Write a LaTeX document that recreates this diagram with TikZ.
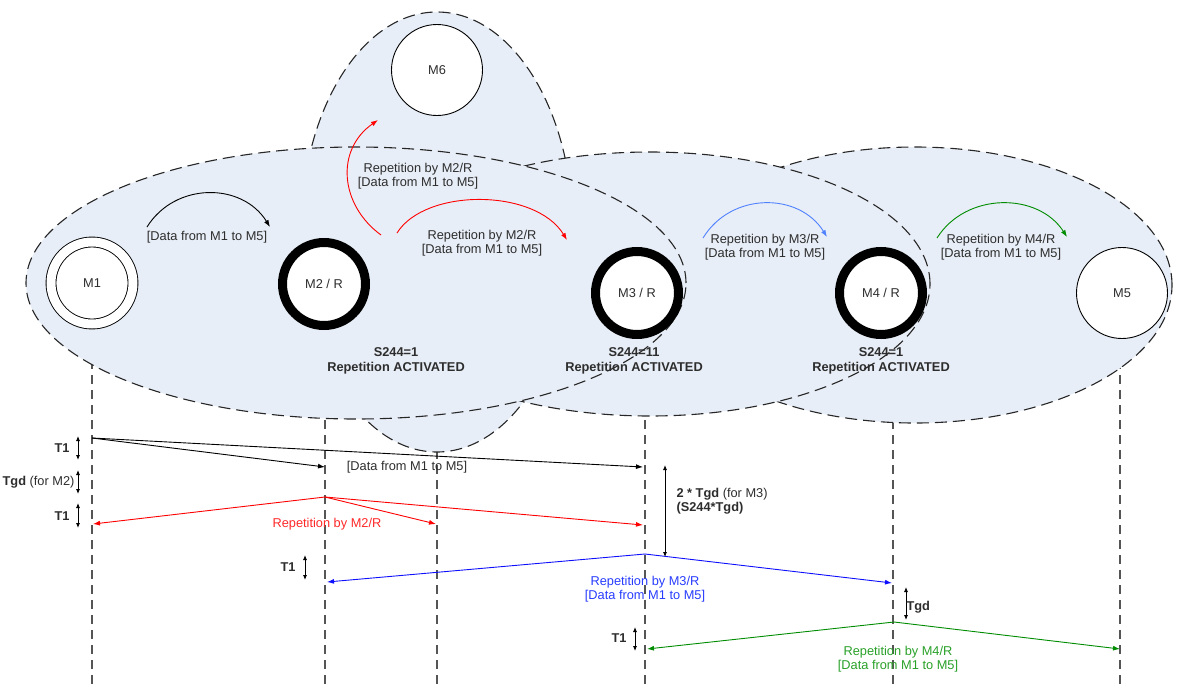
\documentclass[tikz,border=0pt]{standalone}
\usepackage{fontspec}
\setmainfont{Liberation Sans}
\usetikzlibrary{arrows.meta}

\definecolor{cloud}{RGB}{232,238,247}
\definecolor{txtgray}{RGB}{45,45,45}
\definecolor{lifegray}{RGB}{85,85,85}
\definecolor{repred}{RGB}{255,0,0}
\definecolor{txtred}{RGB}{255,40,40}
\definecolor{repblue}{RGB}{15,15,255}
\definecolor{txtblue}{RGB}{40,60,255}
\definecolor{skyblue}{RGB}{80,130,255}
\definecolor{repgreen}{RGB}{0,140,0}
\definecolor{txtgreen}{RGB}{40,160,40}

\newcommand{\diafont}{\fontsize{12.8}{15.5}\selectfont}

\tikzset{
  zone/.style={fill=cloud, draw=black!85, line width=1.1pt, dash pattern=on 12pt off 6pt},
  lifeline/.style={draw=lifegray, line width=1.3pt, dash pattern=on 9pt off 6pt},
  station/.style={circle, draw, fill=white, line width=0.9pt, minimum size=91pt, inner sep=0pt, text=txtgray},
  relay/.style={station, line width=9pt, minimum size=83pt},
  master/.style={station, double, double distance=9pt, minimum size=82pt},
  msg/.style={line width=0.9pt, -{Latex[length=7pt,width=5pt]}},
  span/.style={line width=0.8pt, {Latex[length=5pt,width=4pt]}-{Latex[length=5pt,width=4pt]}},
  lbl/.style={align=center, text=txtgray}
}

\begin{document}
\begin{tikzpicture}[x=1pt, y=-1pt, font=\diafont]
\useasboundingbox (0,0) rectangle (1179,686);

% Lifelines (their tops disappear under the zones)
\foreach \n/\x in {1/92, 2/325, 6/437, 3/645, 4/893, 5/1120} {
  \coordinate (top\n) at (\x,300);
  \coordinate (bot\n) at (\x,686);
  \draw[lifeline] (top\n) -- (bot\n);
}

% Zones
\draw[zone] (915,285) ellipse [x radius=257pt, y radius=138pt];
\draw[zone] (437,232) ellipse [x radius=136pt, y radius=220pt];
\draw[zone] (650,284) ellipse [x radius=280pt, y radius=132pt];
\draw[zone] (356,283) ellipse [x radius=330pt, y radius=136pt];

% Stations
\node[master] (m1) at (92,283) {M1};
\node[relay] (m2) at (324,284) {M2 / R};
\node[relay] (m3) at (637,293) {M3 / R};
\node[relay] (m4) at (881,293) {M4 / R};
\node[station] (m5) at (1122,293) {M5};
\node[station] (m6) at (437,70) {M6};

\node[lbl, font=\diafont\bfseries] (act2) at (396,361) {S244=1\\Repetition ACTIVATED};
\node[lbl, font=\diafont\bfseries] (act3) at (634,361) {S244=11\\Repetition ACTIVATED};
\node[lbl, font=\diafont\bfseries] (act4) at (881,361) {S244=1\\Repetition ACTIVATED};

%% Repetition in the zones
\coordinate (s1) at (147,227);  \coordinate (e1) at (270,227);
\coordinate (s2) at (381,235);  \coordinate (e2) at (378,120);
\coordinate (s3) at (397,233);  \coordinate (e3) at (567,240);
\coordinate (s4) at (703,238);  \coordinate (e4) at (827,237);
\coordinate (s5) at (937,238);  \coordinate (e5) at (1067,237);

\draw[msg] (s1) .. controls (175,182) and (242,182) .. (e1);
\draw[msg, repred] (s2) .. controls (340,205) and (335,150) .. (e2);
\draw[msg, repred] (s3) .. controls (425,188) and (535,188) .. (e3);
\draw[msg, skyblue] (s4) .. controls (731,192) and (799,192) .. (e4);
\draw[msg, repgreen] (s5) .. controls (966,192) and (1038,192) .. (e5);

\node[lbl] (l1) at (207,237) {[Data from M1 to M5]};
\node[lbl] (l2) at (418,176) {Repetition by M2/R\\[-1pt][Data from M1 to M5]};
\node[lbl] (l3) at (482,243) {Repetition by M2/R\\[-1pt][Data from M1 to M5]};
\node[lbl] (l4) at (765,247) {Repetition by M3/R\\[-1pt][Data from M1 to M5]};
\node[lbl] (l5) at (1001,247) {Repetition by M4/R\\[-1pt][Data from M1 to M5]};

%% Timeline
\coordinate (a0) at (92,438);
\coordinate (a2) at (325,467);
\coordinate (a3) at (643,467);
\coordinate (b0) at (325,497);
\coordinate (b1) at (93,524);
\coordinate (b6) at (436,524);
\coordinate (b3) at (643,525);
\coordinate (c0) at (645,554);
\coordinate (c2) at (327,582);
\coordinate (c4) at (892,583);
\coordinate (d0) at (894,622);
\coordinate (d3) at (647,649);
\coordinate (d5) at (1120,649);

\foreach \from/\to in {a0/a2, a0/a3}
  \draw[msg, black] (\from) -- (\to);
\foreach \from/\to in {b0/b1, b0/b6, b0/b3}
  \draw[msg, repred] (\from) -- (\to);
\foreach \from/\to in {c0/c2, c0/c4}
  \draw[msg, repblue] (\from) -- (\to);
\foreach \from/\to in {d0/d3, d0/d5}
  \draw[msg, repgreen] (\from) -- (\to);

\node[lbl] (ta) at (407,467) {[Data from M1 to M5]};
\node[lbl, text=txtred] (tb) at (327,524) {Repetition by M2/R};
\node[lbl, text=txtblue] (tc) at (645,589) {Repetition by M3/R\\[-1pt][Data from M1 to M5]};
\node[lbl, text=txtgreen] (td) at (898,659) {Repetition by M4/R\\[-1pt][Data from M1 to M5]};

% Delays
\coordinate (p1) at (78,436);  \coordinate (q1) at (78,460);
\coordinate (p2) at (78,470);  \coordinate (q2) at (78,494);
\coordinate (p3) at (78,503);  \coordinate (q3) at (78,528);
\coordinate (p4) at (305,555); \coordinate (q4) at (305,580);
\coordinate (p5) at (665,465); \coordinate (q5) at (665,557);
\coordinate (p6) at (906,587); \coordinate (q6) at (906,620);
\coordinate (p7) at (635,627); \coordinate (q7) at (635,651);
\foreach \i in {1,...,7}
  \draw[span] (p\i) -- (q\i);

\node[lbl, anchor=east] (dt1) at (73,448) {\textbf{T1}};
\node[lbl, anchor=east] (dt2) at (78,482) {\textbf{Tgd} (for M2)};
\node[lbl, anchor=east] (dt3) at (73,516) {\textbf{T1}};
\node[lbl, anchor=east] (dt4) at (299,567) {\textbf{T1}};
\node[lbl, anchor=west, align=left] (dt5) at (673,501) {\textbf{2 * Tgd} (for M3)\\[-1pt]\textbf{(S244*Tgd)}};
\node[lbl, anchor=west] (dt6) at (903,607) {\textbf{Tgd}};
\node[lbl, anchor=east] (dt7) at (630,638) {\textbf{T1}};

\end{tikzpicture}
\end{document}
